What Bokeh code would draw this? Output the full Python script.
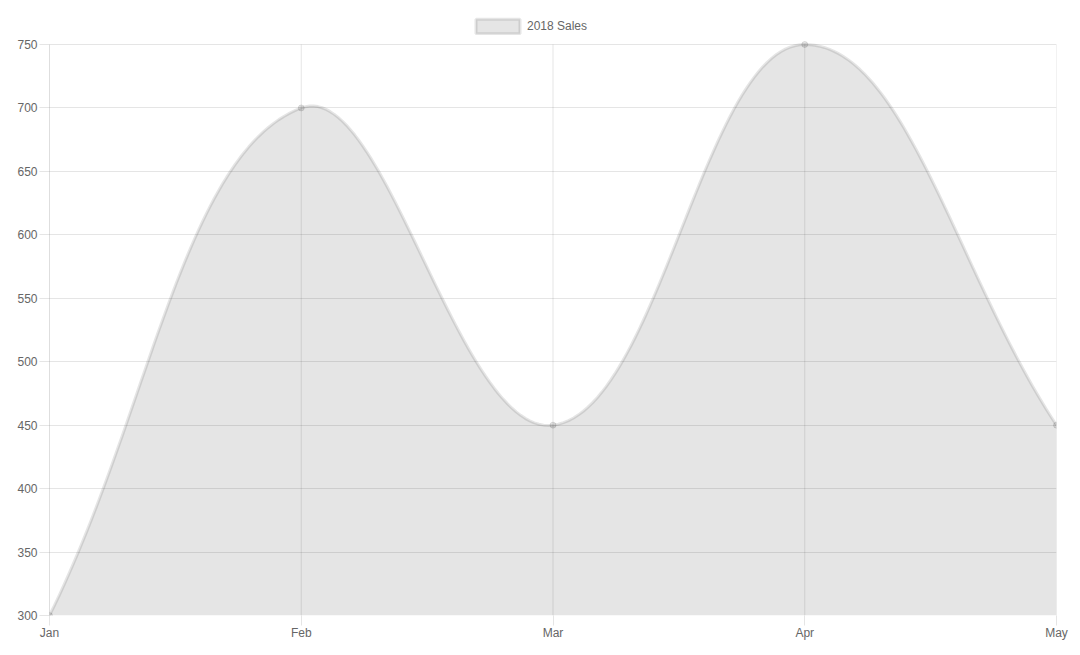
import math
from bokeh.plotting import figure
from bokeh.models import Range1d, FixedTicker, ColumnDataSource, Legend, LegendItem
from bokeh.embed import file_html
from bokeh.resources import INLINE

months = ["Jan", "Feb", "Mar", "Apr", "May"]
sales = [300, 700, 450, 750, 450]
y_ticks = [300, 350, 400, 450, 500, 550, 600, 650, 700, 750]
series_name = "2018 Sales"

FONT = "Liberation Sans"
TXT = "#666666"
W, H = 1072, 647
ML, MR, MB = 49, 16, 32
TOP = 44                      # room above the 750 line, kept inside the frame for the legend
FW = W - ML - MR
FH = H - MB                   # full frame height (frame starts at canvas top)
PH = FH - TOP                 # height of the value area
YMIN, YMAX = y_ticks[0], y_ticks[-1]

xs_idx = list(range(len(months)))

# Chart.js style cubic spline (tension 0.4), computed in pixel space
sx = FW / (len(months) - 1)
sy = PH / (YMAX - YMIN)
pts = [(i * sx, v * sy) for i, v in zip(xs_idx, sales)]
tension = 0.4
cprev, cnext = [], []
for i, cur in enumerate(pts):
    prv = pts[i - 1] if i > 0 else cur
    nxt = pts[i + 1] if i < len(pts) - 1 else cur
    d01 = math.hypot(cur[0] - prv[0], cur[1] - prv[1])
    d12 = math.hypot(nxt[0] - cur[0], nxt[1] - cur[1])
    tot = d01 + d12
    s01 = d01 / tot if tot else 0
    s12 = d12 / tot if tot else 0
    fa, fb = tension * s01, tension * s12
    dx, dy = nxt[0] - prv[0], nxt[1] - prv[1]
    def cap(p):
        return (min(max(p[0], 0), FW), min(max(p[1], YMIN * sy), YMAX * sy))
    cprev.append(cap((cur[0] - fa * dx, cur[1] - fa * dy)))
    cnext.append(cap((cur[0] + fb * dx, cur[1] + fb * dy)))

cx, cy = [], []
N = 60
for i in range(len(pts) - 1):
    p0, c1, c2, p3 = pts[i], cnext[i], cprev[i + 1], pts[i + 1]
    for k in range(N + (1 if i == len(pts) - 2 else 0)):
        t = k / N
        a, b, c, d = (1 - t) ** 3, 3 * (1 - t) ** 2 * t, 3 * (1 - t) * t ** 2, t ** 3
        px = a * p0[0] + b * c1[0] + c * c2[0] + d * p3[0]
        py = a * p0[1] + b * c1[1] + c * c2[1] + d * p3[1]
        cx.append(px / sx)
        cy.append(py / sy)

p = figure(width=W, height=H, output_backend="svg", toolbar_location=None,
           x_range=Range1d(0, len(months) - 1), y_range=Range1d(YMIN, YMAX + TOP / sy),
           min_border_left=ML, min_border_right=MR, min_border_top=0, min_border_bottom=MB)
p.outline_line_color = None
p.background_fill_color = "white"
p.border_fill_color = "white"

p.xaxis.ticker = FixedTicker(ticks=xs_idx)
p.xaxis.major_label_overrides = {i: m for i, m in zip(xs_idx, months)}
p.yaxis.ticker = FixedTicker(ticks=y_ticks)
p.xgrid.visible = False
p.ygrid.ticker = FixedTicker(ticks=y_ticks)
p.ygrid.grid_line_color = "black"
p.ygrid.grid_line_alpha = 0.1
p.ygrid.grid_line_width = 1

for ax in (p.xaxis, p.yaxis):
    ax.major_tick_out = 10
    ax.major_tick_in = 0
    ax.minor_tick_line_color = None
    ax.major_tick_line_color = "black"
    ax.major_tick_line_alpha = 0.1
    ax.major_label_text_font = FONT
    ax.major_label_text_font_size = "12px"
    ax.major_label_text_color = TXT
    ax.axis_line_color = None
p.yaxis.major_label_standoff = 2
p.xaxis.major_label_standoff = 0

# vertical grid lines limited to the value area
p.segment(x0=xs_idx, y0=[YMIN] * len(xs_idx), x1=xs_idx, y1=[YMAX] * len(xs_idx),
          line_color="black", line_alpha=0.1, line_width=1)
# left axis border (darker)
p.segment(x0=[xs_idx[0]], y0=[YMIN], x1=[xs_idx[0]], y1=[YMAX],
          line_color="black", line_alpha=0.17, line_width=1)

src = ColumnDataSource(dict(x=cx, y=cy))
area = p.varea(x="x", y1=YMIN, y2="y", source=src, fill_color="black", fill_alpha=0.1)
p.line(x="x", y="y", source=src, line_color="black", line_alpha=0.1, line_width=3, line_join="round")
p.scatter(xs_idx, sales, size=6, fill_color="black", fill_alpha=0.1,
          line_color="black", line_alpha=0.1, line_width=1)

# hidden renderer used only for the legend swatch (filled box with border)
swatch = p.quad(left=[xs_idx[0]], right=[xs_idx[-1]], top=[YMAX], bottom=[YMIN],
                fill_color="black", fill_alpha=0.1,
                line_color="black", line_alpha=0.1, line_width=3)
swatch.visible = False
legend = Legend(items=[LegendItem(label=series_name, renderers=[swatch])],
                location=(421, FH - 35), orientation="horizontal",
                glyph_width=55, glyph_height=18, label_height=18, label_width=10,
                label_standoff=2, padding=0, margin=0, spacing=0,
                border_line_color=None, background_fill_alpha=0,
                label_text_font=FONT, label_text_font_size="12px", label_text_color=TXT)
p.add_layout(legend, "center")

open("out.html", "w").write(file_html(p, INLINE))
